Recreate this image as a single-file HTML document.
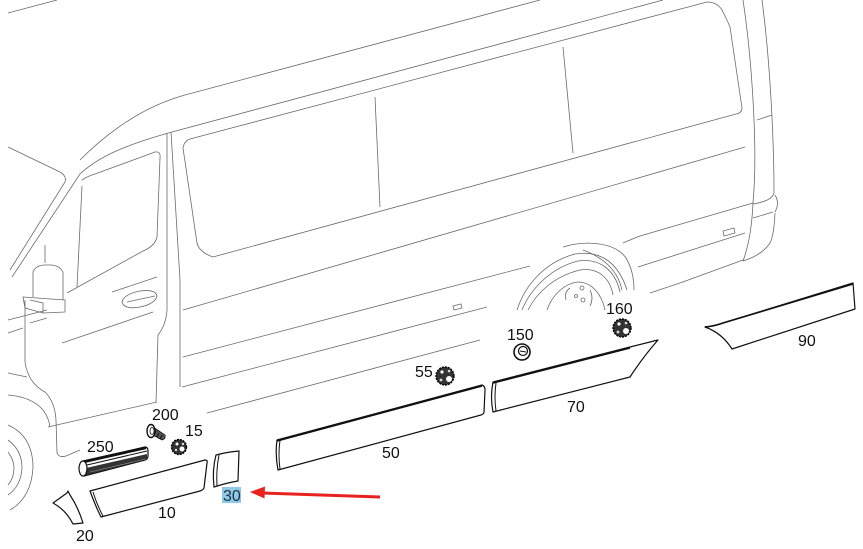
<!DOCTYPE html>
<html><head><meta charset="utf-8"><style>
html,body{margin:0;padding:0;background:#fff;}
svg{display:block;}
.b{fill:none;stroke:#6a6a6a;stroke-width:0.8;}
.p{fill:#fff;stroke:#111;stroke-width:1.2;stroke-linejoin:round;}
.pl{fill:none;stroke:#111;stroke-width:1;}
text{font-family:"Liberation Sans",Arial,sans-serif;font-size:16px;fill:#111;}
</style></head><body>
<svg width="863" height="549" viewBox="0 0 863 549" xmlns="http://www.w3.org/2000/svg">
<rect width="863" height="549" fill="#fff"/>
<!-- Body lines -->
<g class="b">
<path d="M8,13 L57,0"/>
<path d="M80,160 C110,130 145,106 185,95 L540,0"/>
<path d="M663,0 L172,132 C125,145 98,157 80,174 L12,277"/>
<path d="M8,147 L60,172 Q67,176 65,182 L10,270"/>
<path d="M82,180 Q88,176 95,174 L155,152 Q161,151 160,158 L157,237 Q155,246 143,251 L67,293"/>
<path d="M82,186 L77,287"/>
<path d="M45,245 L45,263"/>
<!-- mirror -->
<path d="M33,297 L33,272 Q36,265 45,265 L52,265 Q60,266 63,272 L63,300"/>
<path d="M23,297 L65,300 L65,312 L43,313 L25,308 Z"/>
<path d="M30,300 L43,303 L43,313"/>
<!-- door handle -->
<path d="M122,302 Q124,294 140,291 Q156,289 157,296 Q155,304 140,307 Q124,310 122,302 Z"/>
<path d="M127,302 L155,296"/>
<!-- B pillar / door edges -->
<path d="M167,133 L167,310 Q166,325 158,335 L156,402"/>
<path d="M171,132 L180,280 L180,387"/>
<!-- front door lines -->
<path d="M112,292 L157,277"/>
<path d="M62,343 L153,312"/>
<path d="M8,320 L47,310"/>
<path d="M30,323 L47,318"/>
<path d="M8,333 L23,328"/>
<path d="M48,427 L157,402"/>
<path d="M25,300 L25,362 Q28,383 45,392 Q55,402 56,420 L57,453 Q59,458 66,456 L80,450"/>
<path d="M8,373 L27,377"/>
<path d="M8,395 Q32,397 43,410 Q49,418 50,427"/>
<!-- front wheel -->
<path d="M8,425 Q33,436 33,468 Q31,498 10,510"/>
<path d="M8,440 Q22,450 22,468 Q21,486 8,495"/>
<path d="M8,452 Q14,460 14,468 Q14,478 8,485"/>
<!-- sliding window -->
<path d="M707,2 Q717,2 722,10 Q728,22 730,27 L742,108 Q742,113 736,114 L213,257 Q199,252 197,243 L183,148 Q184,141 190,139 Z"/>
<path d="M375,97 L380,207"/>
<path d="M563,47 L573,153"/>
<!-- horizontal body lines -->
<path d="M183,310 L745,147"/>
<path d="M183,357 L530,266"/>
<path d="M623,243 Q630,240 640,236 L753,203"/>
<path d="M182,387 L487,307"/>
<path d="M638,267 L745,233"/>
<path d="M207,413 L480,340"/>
<path d="M650,293 L680,283 L743,260"/>
<path d="M453,306 L461,304 L462,308 L454,310 Z"/>
<path d="M723,231 L734,228 L735,233 L724,236 Z"/>
<!-- rear pillars -->
<path d="M743,0 C752,60 758,150 753,203 C752,225 749,245 743,261"/>
<path d="M762,0 C770,60 774,140 774,193 Q772,201 753,204"/>
<path d="M775,195 Q780,203 775,212"/>
<path d="M753,218 L773,212"/>
<path d="M775,213 Q774,235 770,243 Q762,255 743,261"/>
<path d="M757,120 L772,115"/>
<!-- rear wheel arch -->
<path d="M563,247 C585,240 615,242 626,258 C632,268 634,280 634,290"/>
<path d="M583,250 C605,258 618,272 622,290"/>
<path d="M517,310 C525,285 545,262 575,254 C600,250 618,262 627,290"/>
<path d="M522,310 C530,290 550,268 578,261 C600,258 615,270 620,292"/>
<path d="M528,310 C537,292 555,276 580,270 C598,267 610,278 613,295"/>
<path d="M547,310 C552,295 565,283 578,282 C592,282 602,295 605,310"/>
<path d="M566,300 Q564,292 570,288"/>
<circle cx="576" cy="296" r="1.5"/>
<circle cx="582" cy="288" r="2"/>
<circle cx="583" cy="300" r="2"/>
<path d="M590,290 Q594,298 590,306"/>
</g>

<!-- Parts -->
<!-- 250 rod -->
<path class="p" d="M83,461 L145,447 Q148,447 148,451 L148,456 Q148,459 145,460 L84,476 Z"/>
<path d="M86,468 L147,454 L147,459 L86,475 Z" fill="#333"/>
<path d="M84,462 L146,448" stroke="#111" stroke-width="2.2" fill="none"/>
<path class="pl" d="M87,465 L147,451"/>
<path d="M90,472 L146,459" stroke="#999" stroke-width="0.6" fill="none"/>
<ellipse cx="83" cy="468.5" rx="4" ry="7.5" fill="#fff" stroke="#111" stroke-width="1.2"/>
<!-- 200 screw -->
<path d="M153,427 L165,435 Q166,439 162,440 L151,434 Z" fill="#555" stroke="#111" stroke-width="0.8"/>
<path class="pl" d="M156,431 L154,435 M159,433 L157,437 M162,435 L160,439"/>
<ellipse cx="151" cy="431" rx="4" ry="6.5" fill="#fff" stroke="#111" stroke-width="1.4"/>
<ellipse cx="152" cy="431" rx="2" ry="3.5" fill="none" stroke="#111" stroke-width="0.8"/>
<!-- 15 clip -->
<g>
<circle cx="179" cy="447" r="7.5" fill="#333" stroke="#000" stroke-width="1.4" stroke-dasharray="2 1"/>
<circle cx="182" cy="449" r="2.5" fill="#fff"/><circle cx="177" cy="444" r="1.5" fill="#fff"/><circle cx="183" cy="444" r="1.2" fill="#ddd"/><circle cx="176" cy="450" r="1.2" fill="#ddd"/>
</g>
<!-- 55 clip -->
<g>
<circle cx="445" cy="376" r="9" fill="#333" stroke="#000" stroke-width="1.4" stroke-dasharray="2 1"/>
<circle cx="449" cy="379" r="3" fill="#fff"/><circle cx="442" cy="372" r="1.6" fill="#fff"/><circle cx="449" cy="371" r="1.3" fill="#ddd"/><circle cx="441" cy="380" r="1.4" fill="#ddd"/>
</g>
<!-- 160 clip -->
<g>
<circle cx="622" cy="328" r="9" fill="#333" stroke="#000" stroke-width="1.4" stroke-dasharray="2 1"/>
<circle cx="626" cy="331" r="3" fill="#fff"/><circle cx="619" cy="324" r="1.6" fill="#fff"/><circle cx="626" cy="323" r="1.3" fill="#ddd"/><circle cx="618" cy="332" r="1.4" fill="#ddd"/>
</g>
<!-- 150 clip -->
<g>
<circle cx="522" cy="352" r="8" fill="#fff" stroke="#111" stroke-width="1.6"/>
<circle cx="523" cy="351" r="4.5" fill="none" stroke="#111" stroke-width="1.2"/>
<path d="M520,351 L526,352" stroke="#111" stroke-width="1"/>
</g>

<!-- 10 strip -->
<path class="p" d="M90,491 L205,460 Q208,460 207,463 L204,488 Q203,490 200,491 L101,517 Q95,505 90,491 Z"/>
<path class="pl" d="M93,492 Q97,505 103,516"/>
<!-- 20 piece -->
<path class="p" d="M53,503 L67,493 L68,491 L70,495 Q78,507 83,523 L73,524 Q66,510 53,503 Z"/>
<!-- 30 piece -->
<path class="p" d="M216,455 Q227,452 239,451 L238,481 Q226,483 214,487 Q212,470 216,455 Z"/>
<path class="pl" d="M219,455 Q216,470 217,486"/>
<!-- 50 strip -->
<path class="p" d="M277,440 L482,385 Q485,386 485,390 L484,412 Q484,414 481,415 L278,470 Q275,455 277,440 Z"/>
<path class="pl" d="M280,440 Q278,455 280,469"/>
<path d="M277,441 L482,386" stroke="#111" stroke-width="1.6" fill="none"/>
<!-- 70 strip -->
<path class="p" d="M493,382 L630,347 L658,340 Q643,357 630,377 L493,412 Q490,397 493,382 Z"/>
<path class="pl" d="M496,383 Q494,397 496,411"/>
<path d="M493,383 L630,348" stroke="#111" stroke-width="1.6" fill="none"/>
<!-- 90 strip -->
<path class="p" d="M705,327 Q715,326 723,323 L853,283 L855,309 L732,349 Q722,333 705,327 Z"/>
<path d="M705,327 Q715,326 723,323 L853,284" stroke="#111" stroke-width="1.6" fill="none"/>

<!-- Red arrow -->
<path d="M380,497 L262,493" stroke="#e8231f" stroke-width="3" fill="none"/>
<path d="M250,492 L265,486.5 L264.5,498.5 Z" fill="#e8231f"/>

<!-- 30 highlight -->
<rect x="222" y="487" width="19" height="16" fill="#8ecae6"/>

<!-- Labels -->
<text x="152" y="420">200</text>
<text x="185" y="436">15</text>
<text x="87" y="452">250</text>
<text x="158" y="518">10</text>
<text x="76" y="541">20</text>
<text x="223" y="501" style="fill:#1b3446">30</text>
<text x="382" y="458">50</text>
<text x="415" y="377">55</text>
<text x="507" y="340">150</text>
<text x="606" y="314">160</text>
<text x="567" y="412">70</text>
<text x="798" y="346">90</text>
</svg>
</body></html>
